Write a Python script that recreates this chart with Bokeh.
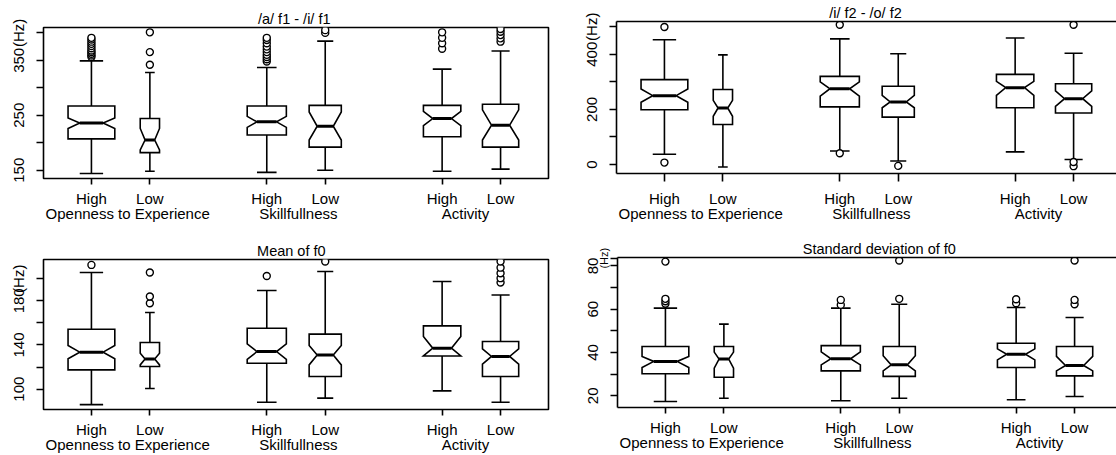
from bokeh.plotting import figure
from bokeh.models import FixedTicker, LinearAxis, Range1d
from bokeh.layouts import row, column
from bokeh.embed import file_html
from bokeh.resources import INLINE

# ---------------- data ----------------
positions = [1, 2, 4, 5, 7, 8]
tick_labels = ["High", "Low", "High", "Low", "High", "Low"]
groups = ["Openness to Experience", "Skillfullness", "Activity"]
box_widths = [0.80, 0.33, 0.67, 0.55, 0.64, 0.62]
titles = ["/a/ f1 - /i/ f1", "/i/ f2 - /o/ f2", "Mean of f0", "Standard deviation of f0"]

# panel 1: /a/ f1 - /i/ f1
p1_lw = [144, 148, 146, 150, 148, 152]
p1_q1 = [207, 182, 214, 192, 211, 192]
p1_nlo = [226, 187, 228, 205, 231, 205]
p1_med = [236, 205, 238, 230, 244, 232]
p1_nhi = [245, 226, 248, 256, 257, 260]
p1_q3 = [267, 244, 267, 268, 268, 270]
p1_uw = [349, 328, 337, 385, 334, 367]
p1_out = [[356, 359, 362, 365, 368, 372, 376, 380, 384, 388, 391],
          [342, 365, 401],
          [348, 352, 356, 360, 365, 370, 375, 381, 387, 391],
          [400, 405],
          [371, 381, 391, 401],
          [384, 390, 396, 402, 407]]

# panel 2: /i/ f2 - /o/ f2
p2_lw = [37, -9, 49, 13, 46, 18]
p2_q1 = [199, 145, 209, 172, 206, 187]
p2_nlo = [226, 175, 248, 206, 251, 211]
p2_med = [250, 205, 275, 227, 279, 239]
p2_nhi = [274, 233, 300, 251, 302, 267]
p2_q3 = [308, 272, 320, 284, 327, 293]
p2_uw = [453, 398, 456, 402, 459, 404]
p2_out = [[7, 499], [], [41, 507], [-5], [], [-6, 9, 507]]

# panel 3: Mean of f0
p3_lw = [86, 100.6, 88.2, 91.9, 98.5, 88.2]
p3_q1 = [117.5, 120.5, 123.5, 111.5, 130.1, 111.5]
p3_nlo = [127.5, 122, 127, 122, 130.1, 122.6]
p3_med = [133.5, 127.3, 134, 131, 137.1, 129.6]
p3_nhi = [139.5, 132.6, 141, 139.5, 147.7, 136.5]
p3_q3 = [154.3, 142.3, 155.2, 149.8, 157.3, 143.2]
p3_uw = [205.6, 169.4, 189.3, 206.5, 197.5, 185.3]
p3_out = [[212.5], [177.8, 183.9, 205.6], [202.5], [215.6], [],
          [196.6, 200.5, 205, 210, 215.6]]

# panel 4: Standard deviation of f0
p4_lw = [17.4, 18.9, 17.7, 18.9, 18.2, 19.7]
p4_q1 = [30.2, 28.6, 31.5, 29.0, 33.1, 29.2]
p4_nlo = [33.1, 32.8, 34.3, 31.5, 36.6, 31.5]
p4_med = [35.9, 37.0, 37.1, 34.3, 39.2, 34.0]
p4_nhi = [38.2, 40.2, 40.3, 38.5, 41.7, 38.2]
p4_q3 = [42.8, 42.8, 43.2, 42.8, 44.3, 42.8]
p4_uw = [60.5, 53.1, 60.5, 62.3, 60.8, 56.2]
p4_out = [[62.5, 63.7, 64.8, 82], [], [62, 64.3], [64.8, 82.5], [62.8, 64.6],
          [62.3, 64.3, 82.5]]

p1_yticks = [150, 200, 250, 300, 350, 400]
p1_ylabels = ["150", "", "250", "", "350", "(Hz)"]
p2_yticks = [0, 100, 200, 300, 400, 500]
p2_ylabels = ["0", "", "200", "", "400", "(Hz)"]
p3_yticks = [100, 120, 140, 160, 180, 200]
p3_ylabels = ["100", "", "140", "", "180", "(Hz)"]
p4_yticks = [20, 30, 40, 50, 60, 70, 80]
p4_ylabels = ["20", "", "40", "", "60", "", "80"]
y_unit = "(Hz)"

# ---------------- styling ----------------
FONT = "Liberation Sans"
TICK_FS = "15px"
TITLE_FS = "14.5px"
LW = 1.6
group_label_pos = [1.62, 4.54, 7.40]


def style_axis(ax, fs, standoff, tick_out, line):
    ax.major_tick_in = 0
    ax.major_tick_out = tick_out
    ax.minor_tick_line_color = None
    ax.major_tick_line_width = LW
    if tick_out == 0:
        ax.major_tick_line_color = None
    ax.major_label_standoff = standoff
    ax.major_label_text_font = FONT
    ax.major_label_text_font_size = fs
    ax.major_label_text_color = "black"
    ax.axis_line_color = "black" if line else None
    ax.axis_line_width = LW


def make_panel(title, lw, q1, nlo, med, nhi, q3, uw, out, yticks, ylabels, yr,
               width, height, mb_left, mb_right, mb_top, mb_bottom, x_end,
               title_x, cut_right, unit_tick=None, x_tick_out=6, x_standoff=5):
    p = figure(width=width, height=height, output_backend="svg",
               toolbar_location=None, x_range=Range1d(0.18, x_end),
               y_range=Range1d(*yr), min_border_left=mb_left,
               min_border_right=mb_right, min_border_top=mb_top,
               min_border_bottom=mb_bottom, background_fill_color="white",
               border_fill_color="white", frame_align=False)
    p.grid.visible = False
    p.xaxis.visible = False
    p.yaxis.visible = False
    if cut_right:
        p.outline_line_color = None
    else:
        p.outline_line_color = "black"
        p.outline_line_width = LW
        p.outline_line_alpha = 1.0

    wx, wy0, wy1 = [], [], []
    cx0, cx1, cy = [], [], []
    pxs, pys = [], []
    mx0, mx1, my = [], [], []
    ox, oy = [], []
    for i, x in enumerate(positions):
        hw = box_widths[i] / 2.0
        wx += [x, x]
        wy0 += [q3[i], q1[i]]
        wy1 += [uw[i], lw[i]]
        cx0 += [x - hw / 2, x - hw / 2]
        cx1 += [x + hw / 2, x + hw / 2]
        cy += [uw[i], lw[i]]
        pxs.append([x - hw, x - hw, x - hw / 2, x - hw, x - hw,
                    x + hw, x + hw, x + hw / 2, x + hw, x + hw])
        pys.append([q1[i], nlo[i], med[i], nhi[i], q3[i],
                    q3[i], nhi[i], med[i], nlo[i], q1[i]])
        mx0.append(x - hw / 2)
        mx1.append(x + hw / 2)
        my.append(med[i])
        for v in out[i]:
            ox.append(x)
            oy.append(v)

    p.segment(x0=wx, y0=wy0, x1=wx, y1=wy1, line_color="black", line_width=LW)
    p.segment(x0=cx0, y0=cy, x1=cx1, y1=cy, line_color="black", line_width=LW)
    p.patches(xs=pxs, ys=pys, fill_color="white", line_color="black",
              line_width=LW, line_join="miter")
    p.segment(x0=mx0, y0=my, x1=mx1, y1=my, line_color="black", line_width=3)
    if ox:
        p.scatter(ox, oy, marker="circle", size=7, fill_color="white",
                  line_color="black", line_width=1.4)

    # y axis
    if unit_tick is None:
        ya = LinearAxis(ticker=FixedTicker(ticks=yticks),
                        major_label_overrides={t: l for t, l in zip(yticks, ylabels)})
        style_axis(ya, TICK_FS, 9, 7, cut_right)
        ya.major_label_orientation = "parallel"
        p.add_layout(ya, "left")
    else:
        # inner axis: tick marks + small unit label; outer axis: numbers
        ticks_a = yticks + [unit_tick]
        labels_a = [""] * len(yticks) + [y_unit]
        ya = LinearAxis(ticker=FixedTicker(ticks=ticks_a),
                        major_label_overrides={t: l for t, l in zip(ticks_a, labels_a)})
        style_axis(ya, "11px", 0, 7, cut_right)
        ya.major_label_orientation = "parallel"
        p.add_layout(ya, "left")
        yb = LinearAxis(ticker=FixedTicker(ticks=yticks),
                        major_label_overrides={t: l for t, l in zip(yticks, ylabels)})
        style_axis(yb, TICK_FS, -3, 0, False)
        yb.major_label_orientation = "parallel"
        p.add_layout(yb, "left")

    # x axis with High / Low
    xa = LinearAxis(ticker=FixedTicker(ticks=positions),
                    major_label_overrides={t: l for t, l in zip(positions, tick_labels)})
    style_axis(xa, TICK_FS, x_standoff, x_tick_out, cut_right)
    p.add_layout(xa, "below")

    # group names
    ga = LinearAxis(ticker=FixedTicker(ticks=group_label_pos),
                    major_label_overrides={t: l for t, l in zip(group_label_pos, groups)})
    style_axis(ga, TICK_FS, -5, 0, False)
    p.add_layout(ga, "below")

    # title as a top axis (also gives the top frame line on cut panels)
    ta = LinearAxis(ticker=FixedTicker(ticks=[title_x]),
                    major_label_overrides={title_x: title})
    style_axis(ta, TITLE_FS, 1, 0, cut_right)
    p.add_layout(ta, "above")
    return p


p1 = make_panel(titles[0], p1_lw, p1_q1, p1_nlo, p1_med, p1_nhi, p1_q3, p1_uw, p1_out,
                p1_yticks, p1_ylabels, (134.9, 409.8),
                570, 232, 43, 22, 27, 54, 8.82, 4.47, False)
p2 = make_panel(titles[1], p2_lw, p2_q1, p2_nlo, p2_med, p2_nhi, p2_q3, p2_uw, p2_out,
                p2_yticks, p2_ylabels, (-32.6, 519),
                546, 232, 46, 0, 21, 59, 8.734, 4.44, True,
                x_tick_out=8, x_standoff=8)
p3 = make_panel(titles[2], p3_lw, p3_q1, p3_nlo, p3_med, p3_nhi, p3_q3, p3_uw, p3_out,
                p3_yticks, p3_ylabels, (81.6, 217.4),
                570, 223, 43, 22, 27, 46, 8.82, 4.42, False)
p4 = make_panel(titles[3], p4_lw, p4_q1, p4_nlo, p4_med, p4_nhi, p4_q3, p4_uw, p4_out,
                p4_yticks, p4_ylabels, (14.6, 83.9),
                546, 223, 47, 0, 25, 48, 8.717, 4.66, True, unit_tick=83.6)

layout = column(row(p1, p2), row(p3, p4))
open("out.html", "w").write(file_html(layout, INLINE))
